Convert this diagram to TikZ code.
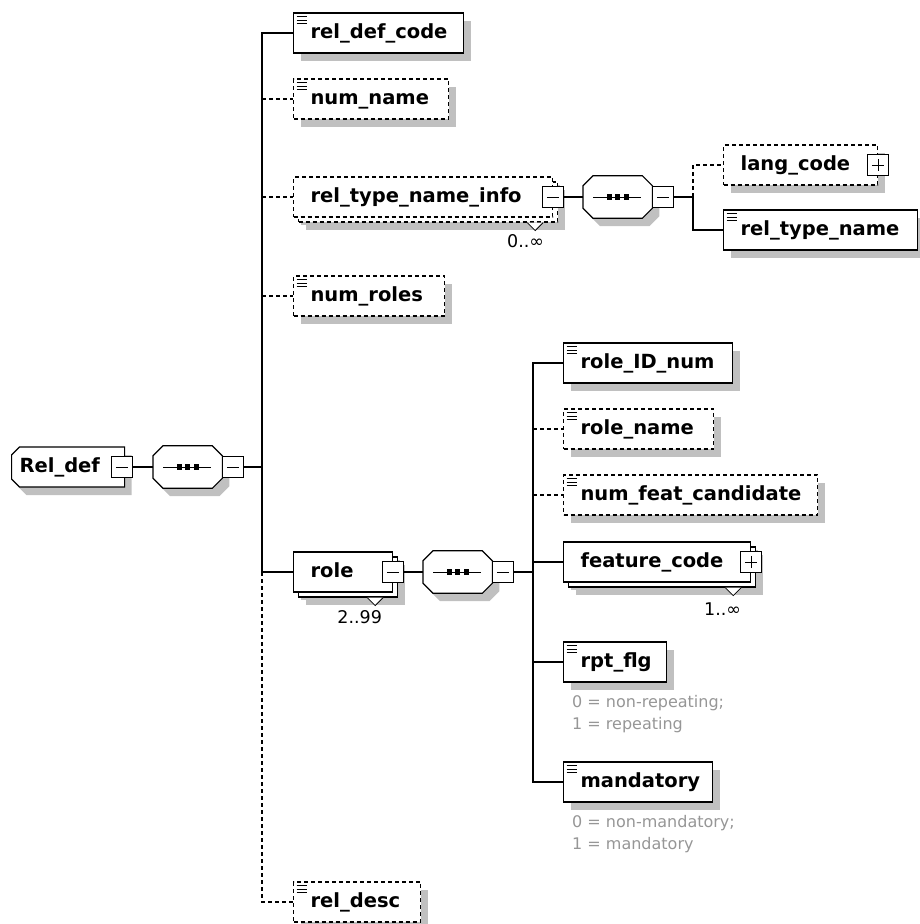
\documentclass[tikz,border=0pt]{standalone}
\usepackage{fontspec}
\usepackage{tikz}
\usetikzlibrary{shapes.misc,shadows}
\newfontfamily\dvsans{DejaVu Sans}
\definecolor{shadegray}{RGB}{192,192,192}
\definecolor{notegray}{RGB}{150,150,150}
\newcommand{\drawseq}[1]{%
  \draw[seqline] ([xshift=10pt]#1.north west) -- ([xshift=-10pt]#1.north east)
    -- ([yshift=-10pt]#1.north east) -- ([yshift=10pt]#1.south east)
    -- ([xshift=-10pt]#1.south east) -- ([xshift=10pt]#1.south west)
    -- ([yshift=10pt]#1.south west) -- ([yshift=-10pt]#1.north west) -- cycle;
  \draw[line width=1pt] ([xshift=10pt]#1.west) -- ([xshift=-11pt]#1.east);
  \foreach \dx in {-8.5,0,8.5}
    \fill ([xshift=\dx pt]#1.center) +(-2.6pt,-2.6pt) rectangle +(2.6pt,2.6pt);}

\begin{document}
\begin{tikzpicture}[
  x=1pt, y=-1pt,
  conn/.style={line width=1.2pt},
  optconn/.style={line width=1.2pt, dash pattern=on 4pt off 3pt},
  opt/.style={dash pattern=on 4pt off 3pt},
  elem/.style={draw, fill=white, line width=1.2pt, anchor=west,
    minimum height=40pt, inner xsep=17pt, inner ysep=0pt,
    text width=#1, align=left, text height=14pt, text depth=4pt,
    font=\fontsize{19.5}{22}\dvsans\bfseries,
    drop shadow={shadow xshift=7pt, shadow yshift=-8pt, fill=shadegray, opacity=1}},
  leaf/.style={path picture={
    \foreach \k in {0,1,2}
      \draw[solid, line width=1pt] ([xshift=3pt, yshift={-3.5pt-3.5pt*\k}]path picture bounding box.north west) -- ++(10pt,0);}},
  multi/.style={drop shadow={shadow xshift=12pt, shadow yshift=-13pt, fill=shadegray, opacity=1},
    copy shadow={shadow xshift=5pt, shadow yshift=-5pt, draw, fill=white, line width=1.2pt, #1}},
  multi/.default=solid,
  expbox/.style={draw, fill=white, line width=1pt, minimum size=20.5pt, inner sep=0pt},
  minusbox/.style={expbox, path picture={
    \draw[solid, line width=1pt] ([xshift=4pt]path picture bounding box.west) -- ([xshift=-4pt]path picture bounding box.east);}},
  plusbox/.style={expbox, path picture={
    \draw[solid, line width=1pt] ([xshift=4pt]path picture bounding box.west) -- ([xshift=-4pt]path picture bounding box.east);
    \draw[solid, line width=1pt] ([yshift=-4pt]path picture bounding box.north) -- ([yshift=4pt]path picture bounding box.south);}},
  seqbox/.style={minimum width=69pt, minimum height=42pt, inner sep=0pt, anchor=west},
  seqline/.style={draw, fill=white, line width=1.2pt,
    drop shadow={shadow xshift=7pt, shadow yshift=-8pt, fill=shadegray, opacity=1}},
  vmark/.style={line width=0.8pt, fill=white},
  mult/.style={font=\fontsize{17.5}{20}\dvsans, inner sep=0pt, anchor=north east},
  note/.style={font=\fontsize{16}{22}\dvsans, text=notegray, align=left, anchor=north west, inner sep=0pt}
]
\useasboundingbox (0,0) rectangle (920,924);

\node[elem=97pt, chamfered rectangle, chamfered rectangle corners={north west,south west},
  chamfered rectangle xsep=5pt, inner xsep=3pt] (relDef) at (11,467) {Rel\_def};
\node[minusbox] (relDefX) at ([xshift=-3pt]relDef.east) {};
\node[seqbox] (seqMain) at (153,467) {};
\drawseq{seqMain}
\node[minusbox, anchor=west] (seqMainX) at (seqMain.east) {};
\coordinate (mainJ) at (262,467);

\node[elem=136pt, leaf] (relDefCode) at (293,33) {rel\_def\_code};
\node[elem=121pt, leaf, opt] (numName) at (293,99) {num\_name};
\node[elem=225pt, opt, multi=opt] (relTypeInfo) at (293,197) {rel\_type\_name\_info};
\node[elem=117pt, leaf, opt] (numRoles) at (293,296) {num\_roles};
\node[elem=65pt, multi] (role) at (293,572) {role};
\node[elem=93pt, leaf, opt] (relDesc) at (293,902) {rel\_desc};

\node[minusbox] (relTypeInfoX) at (relTypeInfo.east) {};
\draw[vmark] ([xshift=-26pt,yshift=-5pt]relTypeInfo.south east) -- ++(8,8) -- ++(8,-8);
\node[mult] (relTypeInfoM) at ([xshift=-9pt,yshift=-17pt]relTypeInfo.south east) {0..∞};
\node[seqbox] (seqInfo) at (583,197) {};
\drawseq{seqInfo}
\node[minusbox, anchor=west] (seqInfoX) at (seqInfo.east) {};
\coordinate (infoJ) at (693,197);
\node[elem=120pt, opt] (langCode) at (723,165) {lang\_code};
\node[plusbox] (langCodeX) at (langCode.east) {};
\node[elem=160pt, leaf] (relTypeName) at (723,230) {rel\_type\_name};

\node[minusbox] (roleX) at (role.east) {};
\draw[vmark] ([xshift=-26pt,yshift=-5pt]role.south east) -- ++(8,8) -- ++(8,-8);
\node[mult] (roleM) at ([xshift=-11pt,yshift=-18pt]role.south east) {2..99};
\node[seqbox] (seqRole) at (423,572) {};
\drawseq{seqRole}
\node[minusbox, anchor=west] (seqRoleX) at (seqRole.east) {};
\coordinate (roleJ) at (533,572);

\node[elem=135pt, leaf] (roleIdNum) at (563,363) {role\_ID\_num};
\node[elem=116pt, leaf, opt] (roleName) at (563,429) {role\_name};
\node[elem=220pt, leaf, opt] (numFeatCand) at (563,495) {num\_feat\_candidate};
\node[elem=153pt, multi] (featureCode) at (563,562) {feature\_code};
\node[plusbox] (featureCodeX) at (featureCode.east) {};
\draw[vmark] ([xshift=-26pt,yshift=-5pt]featureCode.south east) -- ++(8,8) -- ++(8,-8);
\node[mult] (featureCodeM) at ([xshift=-10pt,yshift=-20pt]featureCode.south east) {1..∞};
\node[elem=69pt, leaf] (rptFlg) at (563,662) {rpt\_flg};
\node[note] (rptFlgNote) at (572,695) {0 = non-repeating;\\1 = repeating};
\node[elem=115pt, leaf] (mandatory) at (563,782) {mandatory};
\node[note] (mandatoryNote) at (572,815) {0 = non-mandatory;\\1 = mandatory};

\draw[conn] (relDefX) -- (seqMain);
\draw[conn] (seqMainX) -- (mainJ);
\draw[conn] (mainJ) |- (relDefCode.west);
\draw[conn] (mainJ) |- (role.west);
\draw[optconn] (mainJ |- numName.west) -- (numName.west);
\draw[optconn] (mainJ |- relTypeInfo.west) -- (relTypeInfo.west);
\draw[optconn] (mainJ |- numRoles.west) -- (numRoles.west);
\draw[optconn] (mainJ |- role.west) |- (relDesc.west);

\draw[conn] (relTypeInfoX) -- (seqInfo);
\draw[conn] (seqInfoX) -- (infoJ);
\draw[optconn] (infoJ) |- (langCode.west);
\draw[conn] (infoJ) |- (relTypeName.west);

\draw[conn] (roleX) -- (seqRole);
\draw[conn] (seqRoleX) -- (roleJ);
\draw[conn] (roleJ) |- (roleIdNum.west);
\draw[conn] (roleJ) |- (mandatory.west);
\draw[conn] (roleJ) |- (featureCode.west);
\draw[optconn] (roleJ |- roleName.west) -- (roleName.west);
\draw[optconn] (roleJ |- numFeatCand.west) -- (numFeatCand.west);
\draw[conn] (roleJ |- rptFlg.west) -- (rptFlg.west);
\end{tikzpicture}
\end{document}
